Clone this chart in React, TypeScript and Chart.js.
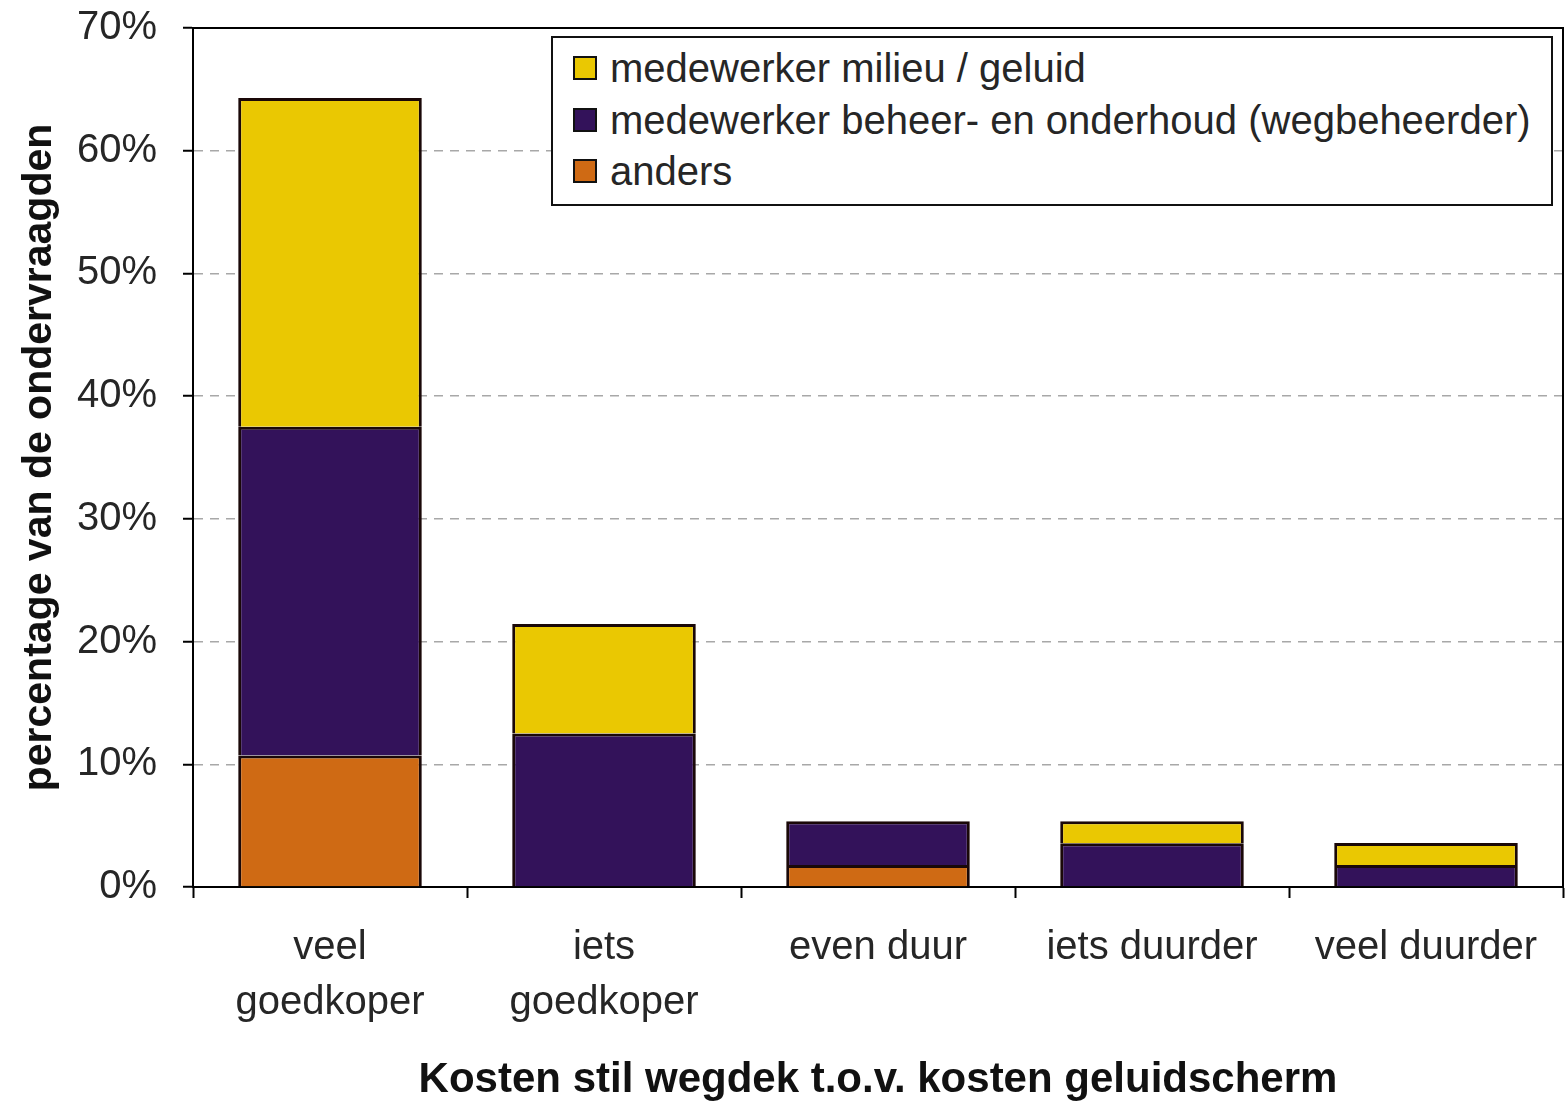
import React, { useEffect, useRef } from "react";
import { Chart, registerables } from "chart.js";

Chart.register(...registerables);

const categories: string[][] = [
  ["veel", "goedkoper"],
  ["iets", "goedkoper"],
  ["even duur"],
  ["iets duurder"],
  ["veel duurder"],
];

// stacked bottom -> top
const andersValues = [10.71, 0, 1.79, 0, 0];
const beheerValues = [26.79, 12.5, 3.57, 3.57, 1.79];
const milieuValues = [26.79, 8.93, 0, 1.79, 1.79];

const seriesNames = [
  "anders",
  "medewerker beheer- en onderhoud (wegbeheerder)",
  "medewerker milieu / geluid",
];
const seriesColors = ["#CF6A14", "#33125A", "#EAC802"];

const yTicks = [0, 10, 20, 30, 40, 50, 60, 70];
const xTitle = "Kosten stil wegdek t.o.v. kosten geluidscherm";
const yTitle = "percentage van de ondervraagden";

const FONT = "'Liberation Sans', Arial, sans-serif";

const framePlugin = {
  id: "frame",
  afterDraw(chart: any) {
    const { ctx, chartArea } = chart;
    ctx.save();
    ctx.strokeStyle = "#000";
    ctx.lineWidth = 2;
    ctx.beginPath();
    ctx.moveTo(chartArea.left, chartArea.top);
    ctx.lineTo(chartArea.right, chartArea.top);
    ctx.lineTo(chartArea.right, chartArea.bottom);
    ctx.stroke();
    ctx.restore();
  },
};

export default function App() {
  const ref = useRef<HTMLCanvasElement | null>(null);

  useEffect(() => {
    if (!ref.current) return;
    const values = [andersValues, beheerValues, milieuValues];
    const chart = new Chart(ref.current, {
      type: "bar",
      data: {
        labels: categories as any,
        datasets: values.map((v, i) => ({
          label: seriesNames[i],
          data: v,
          backgroundColor: seriesColors[i],
          borderColor: "#1a0808",
          borderWidth: 3,
          borderSkipped: "start",
          categoryPercentage: 0.67,
          barPercentage: 1,
        })),
      },
      options: {
        responsive: false,
        devicePixelRatio: 1,
        animation: false,
        layout: { padding: { top: 28, right: 4, bottom: 0, left: 0 } },
        plugins: {
          legend: { display: false },
          tooltip: { enabled: false },
        },
        scales: {
          x: {
            stacked: true,
            afterFit: (s: any) => {
              s.height = 216;
              s.paddingLeft = 0;
              s.paddingRight = 0;
            },
            grid: {
              display: true,
              offset: true,
              drawOnChartArea: false,
              drawTicks: true,
              tickLength: 11,
              tickColor: "#000",
              tickWidth: 2,
            },
            border: { display: true, color: "#000", width: 2 },
            ticks: {
              color: "#262626",
              font: { family: FONT, size: 40, lineHeight: 1.375 },
              padding: 22,
              maxRotation: 0,
              autoSkip: false,
            },
            title: {
              display: true,
              text: xTitle,
              color: "#111",
              font: { family: FONT, size: 42, weight: "bold", lineHeight: 1 },
              padding: { top: 0, bottom: 2 },
            },
          },
          y: {
            stacked: true,
            min: yTicks[0],
            max: yTicks[yTicks.length - 1],
            afterFit: (s: any) => {
              s.width = 193;
              s.paddingTop = 0;
              s.paddingBottom = 0;
            },
            afterBuildTicks: (s: any) => {
              s.ticks = yTicks.map((v) => ({ value: v }));
            },
            grid: {
              color: "#a8a8a8",
              lineWidth: 1.5,
              drawTicks: true,
              tickLength: 10,
              tickColor: "#000",
              tickWidth: 2,
              tickBorderDash: [],
            },
            border: { display: true, color: "#000", width: 2, dash: [9, 7] },
            ticks: {
              color: "#262626",
              font: { family: FONT, size: 40 },
              padding: 26,
              callback: (v: any) => v + "%",
            },
            title: {
              display: true,
              text: yTitle,
              color: "#111",
              font: { family: FONT, size: 41, weight: "bold", lineHeight: 1.2 },
              padding: { top: 15, bottom: 0 },
            },
          },
        },
      },
      plugins: [framePlugin],
    } as any);
    return () => chart.destroy();
  }, []);

  const legendOrder = [2, 1, 0];

  return (
    <div
      style={{
        position: "absolute",
        left: 0,
        top: 0,
        width: 1567,
        height: 1103,
        background: "#fff",
      }}
    >
      <canvas
        ref={ref}
        width={1567}
        height={1103}
        style={{ width: 1567, height: 1103, display: "block" }}
      />
      <div
        style={{
          position: "absolute",
          left: 551,
          top: 36,
          width: 998,
          height: 166,
          border: "2px solid #111",
          background: "#fff",
          fontFamily: FONT,
          fontSize: 40,
          color: "#262626",
        }}
      >
        {legendOrder.map((si, row) => (
          <div
            key={si}
            style={{
              position: "absolute",
              left: 20,
              top: 5 + row * 51.5,
              height: 50,
              lineHeight: "50px",
              display: "flex",
              alignItems: "center",
              whiteSpace: "nowrap",
            }}
          >
            <span
              style={{
                display: "inline-block",
                width: 20,
                height: 20,
                border: "2px solid #111",
                background: seriesColors[si],
                marginRight: 13,
              }}
            />
            <span>{seriesNames[si]}</span>
          </div>
        ))}
      </div>
    </div>
  );
}
